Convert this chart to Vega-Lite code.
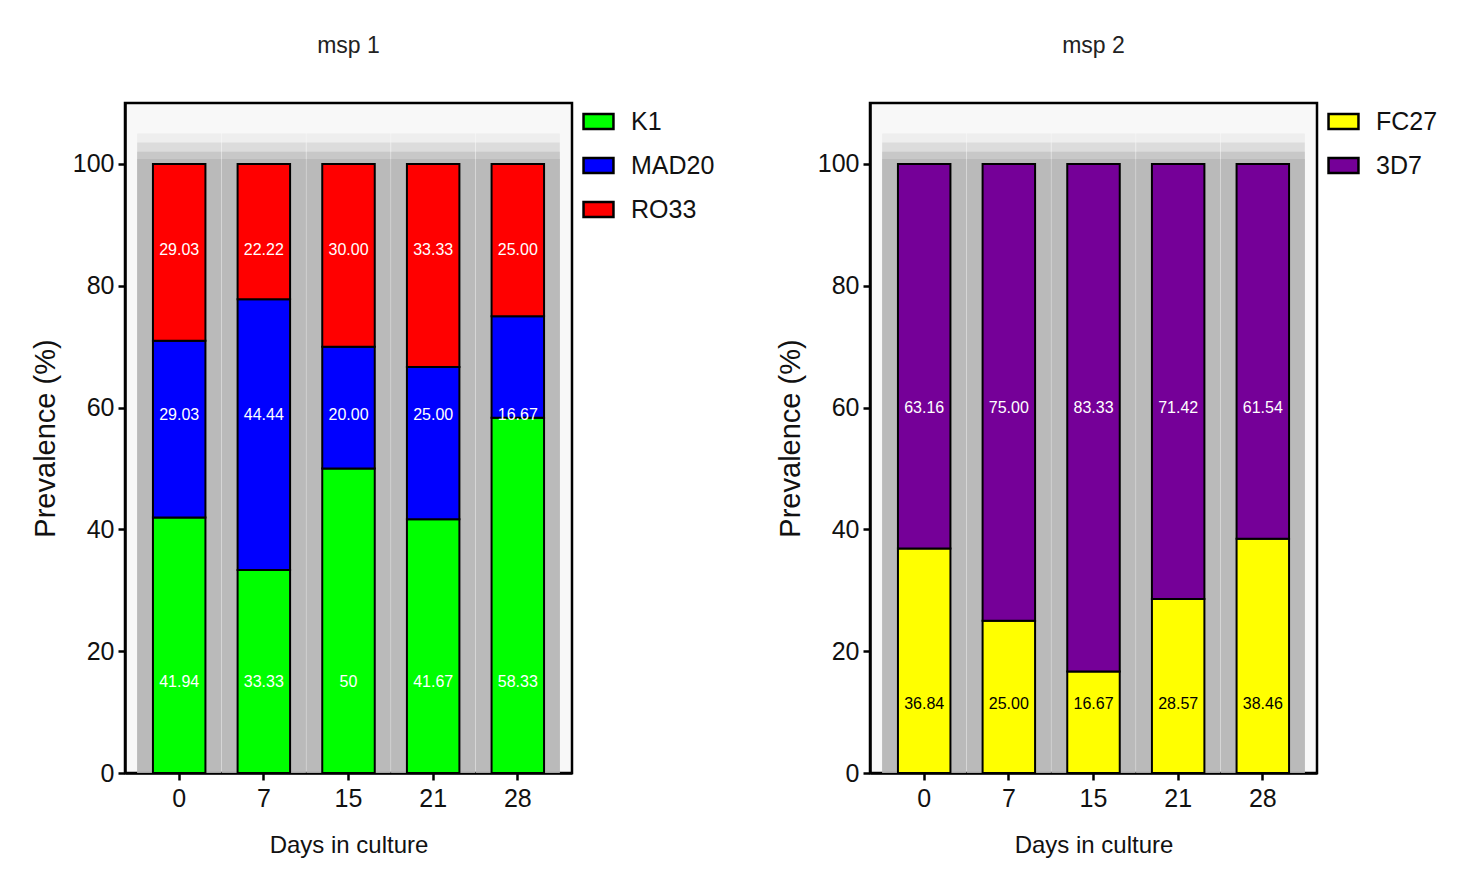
{
  "$schema": "https://vega.github.io/schema/vega-lite/v6.json",
  "background": "white",
  "padding": {"left": 30, "top": 33, "right": 5, "bottom": 5},
  "spacing": 52,
  "datasets": {
    "msp1": [
      {"day": "0", "allele": "K1", "prev": 41.94, "label": "41.94"},
      {"day": "0", "allele": "MAD20", "prev": 29.03, "label": "29.03"},
      {"day": "0", "allele": "RO33", "prev": 29.03, "label": "29.03"},
      {"day": "7", "allele": "K1", "prev": 33.33, "label": "33.33"},
      {"day": "7", "allele": "MAD20", "prev": 44.44, "label": "44.44"},
      {"day": "7", "allele": "RO33", "prev": 22.22, "label": "22.22"},
      {"day": "15", "allele": "K1", "prev": 50, "label": "50"},
      {"day": "15", "allele": "MAD20", "prev": 20, "label": "20.00"},
      {"day": "15", "allele": "RO33", "prev": 30, "label": "30.00"},
      {"day": "21", "allele": "K1", "prev": 41.67, "label": "41.67"},
      {"day": "21", "allele": "MAD20", "prev": 25, "label": "25.00"},
      {"day": "21", "allele": "RO33", "prev": 33.33, "label": "33.33"},
      {"day": "28", "allele": "K1", "prev": 58.33, "label": "58.33"},
      {"day": "28", "allele": "MAD20", "prev": 16.67, "label": "16.67"},
      {"day": "28", "allele": "RO33", "prev": 25, "label": "25.00"}
    ],
    "msp2": [
      {"day": "0", "allele": "FC27", "prev": 36.84, "label": "36.84"},
      {"day": "0", "allele": "3D7", "prev": 63.16, "label": "63.16"},
      {"day": "7", "allele": "FC27", "prev": 25, "label": "25.00"},
      {"day": "7", "allele": "3D7", "prev": 75, "label": "75.00"},
      {"day": "15", "allele": "FC27", "prev": 16.67, "label": "16.67"},
      {"day": "15", "allele": "3D7", "prev": 83.33, "label": "83.33"},
      {"day": "21", "allele": "FC27", "prev": 28.57, "label": "28.57"},
      {"day": "21", "allele": "3D7", "prev": 71.42, "label": "71.42"},
      {"day": "28", "allele": "FC27", "prev": 38.46, "label": "38.46"},
      {"day": "28", "allele": "3D7", "prev": 61.54, "label": "61.54"}
    ]
  },
  "hconcat": [
    {
      "width": 447,
      "height": 670,
      "title": {"text": "msp 1"},
      "data": {"name": "msp1"},
      "encoding": {
        "x": {
          "field": "day", "type": "ordinal", "sort": ["0", "7", "15", "21", "28"],
          "scale": {"paddingInner": 0.38, "paddingOuter": 0.33},
          "axis": {"title": "Days in culture", "labelAngle": 0}
        }
      },
      "layer": [
        {
          "transform": [{"filter": "datum.allele == 'K1'"}],
          "mark": {"type": "bar", "size": 84, "color": "#b4b4b4", "opacity": 0.15},
          "encoding": {"y": {"datum": 105, "type": "quantitative", "title": "Prevalence (%)"}, "y2": {"datum": 0}}
        },
        {
          "transform": [{"filter": "datum.allele == 'K1'"}],
          "mark": {"type": "bar", "size": 84, "color": "#b4b4b4", "opacity": 0.3},
          "encoding": {"y": {"datum": 103.5, "type": "quantitative", "title": "Prevalence (%)"}, "y2": {"datum": 0}}
        },
        {
          "transform": [{"filter": "datum.allele == 'K1'"}],
          "mark": {"type": "bar", "size": 84, "color": "#b4b4b4", "opacity": 0.5},
          "encoding": {"y": {"datum": 102, "type": "quantitative", "title": "Prevalence (%)"}, "y2": {"datum": 0}}
        },
        {
          "transform": [{"filter": "datum.allele == 'K1'"}],
          "mark": {"type": "bar", "size": 84, "color": "#b4b4b4", "opacity": 0.7},
          "encoding": {"y": {"datum": 100.8, "type": "quantitative", "title": "Prevalence (%)"}, "y2": {"datum": 0}}
        },
        {
          "mark": {"type": "bar", "stroke": "black", "strokeWidth": 2},
          "encoding": {
            "y": {
              "field": "prev", "type": "quantitative", "stack": "zero",
              "scale": {"domain": [0, 110]},
              "axis": {"values": [0, 20, 40, 60, 80, 100]},
              "title": "Prevalence (%)"
            },
            "color": {
              "field": "allele", "type": "nominal",
              "sort": ["K1", "MAD20", "RO33"],
              "scale": {"domain": ["K1", "MAD20", "RO33"], "range": ["#00ff00", "#0000ff", "#ff0000"]},
              "legend": {"title": null}
            },
            "order": {"field": "allele", "sort": "ascending"}
          }
        },
        {
          "transform": [{"filter": "datum.allele == 'K1'"}],
          "mark": {"type": "text", "color": "white", "fontSize": 16},
          "encoding": {"y": {"datum": 15, "type": "quantitative", "title": "Prevalence (%)"}, "text": {"field": "label"}}
        },
        {
          "transform": [{"filter": "datum.allele == 'MAD20'"}],
          "mark": {"type": "text", "color": "white", "fontSize": 16},
          "encoding": {"y": {"datum": 58.7, "type": "quantitative", "title": "Prevalence (%)"}, "text": {"field": "label"}}
        },
        {
          "transform": [{"filter": "datum.allele == 'RO33'"}],
          "mark": {"type": "text", "color": "white", "fontSize": 16},
          "encoding": {"y": {"datum": 85.9, "type": "quantitative", "title": "Prevalence (%)"}, "text": {"field": "label"}}
        }
      ]
    },
    {
      "width": 447,
      "height": 670,
      "title": {"text": "msp 2"},
      "data": {"name": "msp2"},
      "encoding": {
        "x": {
          "field": "day", "type": "ordinal", "sort": ["0", "7", "15", "21", "28"],
          "scale": {"paddingInner": 0.38, "paddingOuter": 0.33},
          "axis": {"title": "Days in culture", "labelAngle": 0}
        }
      },
      "layer": [
        {
          "transform": [{"filter": "datum.allele == 'FC27'"}],
          "mark": {"type": "bar", "size": 84, "color": "#b4b4b4", "opacity": 0.15},
          "encoding": {"y": {"datum": 105, "type": "quantitative", "title": "Prevalence (%)"}, "y2": {"datum": 0}}
        },
        {
          "transform": [{"filter": "datum.allele == 'FC27'"}],
          "mark": {"type": "bar", "size": 84, "color": "#b4b4b4", "opacity": 0.3},
          "encoding": {"y": {"datum": 103.5, "type": "quantitative", "title": "Prevalence (%)"}, "y2": {"datum": 0}}
        },
        {
          "transform": [{"filter": "datum.allele == 'FC27'"}],
          "mark": {"type": "bar", "size": 84, "color": "#b4b4b4", "opacity": 0.5},
          "encoding": {"y": {"datum": 102, "type": "quantitative", "title": "Prevalence (%)"}, "y2": {"datum": 0}}
        },
        {
          "transform": [{"filter": "datum.allele == 'FC27'"}],
          "mark": {"type": "bar", "size": 84, "color": "#b4b4b4", "opacity": 0.7},
          "encoding": {"y": {"datum": 100.8, "type": "quantitative", "title": "Prevalence (%)"}, "y2": {"datum": 0}}
        },
        {
          "mark": {"type": "bar", "stroke": "black", "strokeWidth": 2},
          "encoding": {
            "y": {
              "field": "prev", "type": "quantitative", "stack": "zero",
              "scale": {"domain": [0, 110]},
              "axis": {"values": [0, 20, 40, 60, 80, 100]},
              "title": "Prevalence (%)"
            },
            "color": {
              "field": "allele", "type": "nominal",
              "sort": ["FC27", "3D7"],
              "scale": {"domain": ["FC27", "3D7"], "range": ["#ffff00", "#750098"]},
              "legend": {"title": null}
            },
            "order": {"field": "allele", "sort": "descending"}
          }
        },
        {
          "transform": [{"filter": "datum.allele == 'FC27'"}],
          "mark": {"type": "text", "color": "black", "fontSize": 16},
          "encoding": {"y": {"datum": 11.3, "type": "quantitative", "title": "Prevalence (%)"}, "text": {"field": "label"}}
        },
        {
          "transform": [{"filter": "datum.allele == '3D7'"}],
          "mark": {"type": "text", "color": "white", "fontSize": 16},
          "encoding": {"y": {"datum": 60, "type": "quantitative", "title": "Prevalence (%)"}, "text": {"field": "label"}}
        }
      ]
    }
  ],
  "resolve": {"scale": {"color": "independent"}, "legend": {"color": "independent"}},
  "config": {
    "font": "Liberation Sans",
    "view": {"stroke": "black", "strokeWidth": 2.5, "fill": "#f8f8f8"},
    "title": {"fontSize": 23, "fontWeight": "normal", "color": "#222", "offset": 45, "anchor": "middle"},
    "axis": {
      "grid": false, "domainColor": "black", "domainWidth": 2.5, "tickColor": "black", "tickWidth": 2.5, "tickSize": 7,
      "labelFontSize": 25, "labelColor": "#111", "titleFontSize": 24, "titleFontWeight": "normal", "titleColor": "#111"
    },
    "axisX": {"labelPadding": 6, "titlePadding": 22},
    "axisY": {"labelPadding": 4, "titlePadding": 12, "titleFontSize": 29},
    "legend": {
      "orient": "right", "offset": 8, "padding": 6, "labelFontSize": 25, "labelColor": "#111", "rowPadding": 18,
      "symbolType": "M-1.6,-0.8H1.6V0.8H-1.6Z", "symbolSize": 350, "symbolStrokeColor": "black", "symbolStrokeWidth": 2.5,
      "symbolOpacity": 1, "labelOffset": 20
    }
  }
}
